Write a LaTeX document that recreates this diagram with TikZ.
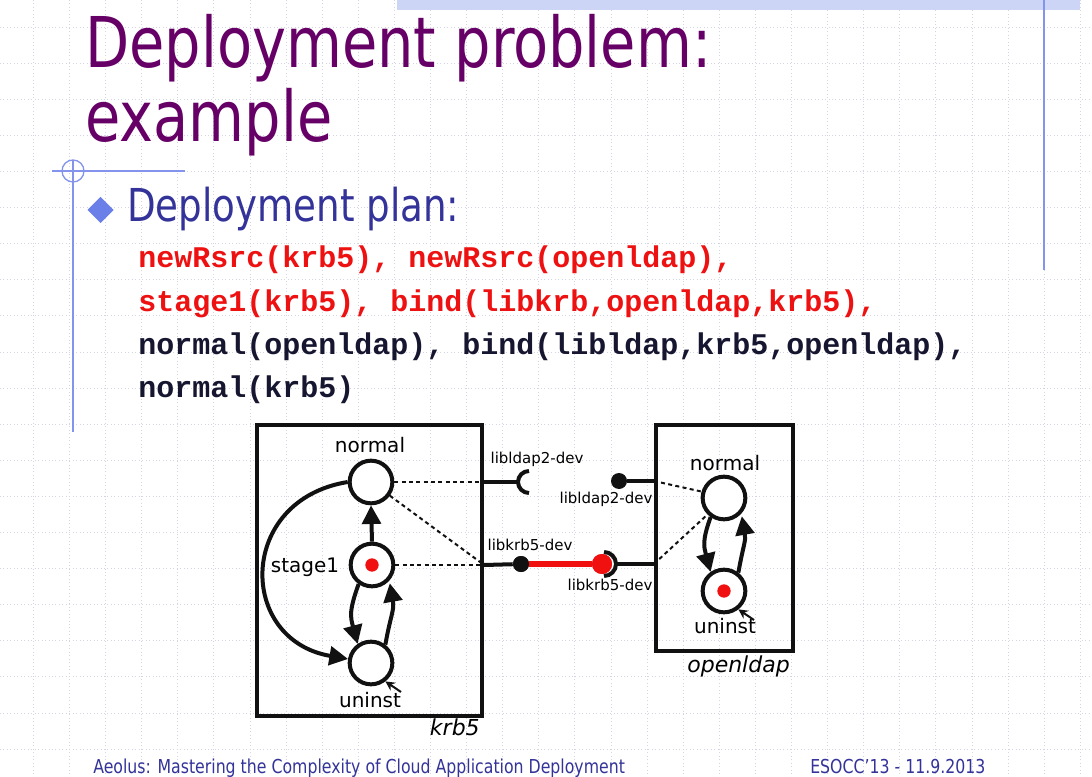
\documentclass[tikz,border=0pt]{standalone}
\usepackage{fontspec}
\usepackage{graphicx}
\setmainfont{DejaVu Sans}
\newfontfamily\codefont{Liberation Mono}
\usetikzlibrary{arrows.meta}
\definecolor{titlec}{HTML}{660066}
\definecolor{bulletc}{HTML}{333399}
\definecolor{diamc}{HTML}{6B7FE8}
\definecolor{linec}{HTML}{8494EC}
\definecolor{bandc}{HTML}{CDD5F6}
\definecolor{gridc}{HTML}{D4D4E2}
\definecolor{codered}{HTML}{EE1111}
\definecolor{codedark}{HTML}{161630}
\definecolor{ink}{HTML}{111111}
\definecolor{bindred}{HTML}{F01010}
\begin{document}
\begin{tikzpicture}[x=0.75pt,y=0.75pt,
  gridline/.style={draw=gridc, dotted, line width=0.6pt},
  titletext/.style={font=\fontsize{52.5}{60}\selectfont, text=titlec, anchor=base west, inner sep=0pt},
  plantext/.style={font=\fontsize{34}{40}\selectfont, text=bulletc, anchor=base west, inner sep=0pt},
  codetext/.style={font=\codefont\bfseries\fontsize{22.5}{26}\selectfont, anchor=base west, inner sep=0pt},
  foottext/.style={font=\fontsize{14.4}{17}\selectfont, text=bulletc, anchor=base west, inner sep=0pt},
  comp/.style={draw=ink, line width=3.2pt, inner sep=0pt},
  state/.style={circle, draw=ink, fill=white, line width=3pt, minimum size=32pt, inner sep=0pt},
  stlabel/.style={font=\fontsize{15}{18}\selectfont, anchor=base, inner sep=0pt},
  portlabel/.style={font=\fontsize{11.25}{13}\selectfont, anchor=base, inner sep=0pt},
  complabel/.style={font=\fontsize{16.5}{19}\selectfont\itshape, anchor=base east, inner sep=0pt},
  arr/.style={draw=ink, line width=3pt, -{Triangle[length=14pt,width=14pt]}},
  initarr/.style={draw=ink, line width=1.5pt, -{Stealth[length=7pt,width=7pt]}},
  portline/.style={draw=ink, line width=3pt},
  dashline/.style={draw=ink, line width=1.5pt, dash pattern=on 3pt off 2.5pt},
  provdot/.style={circle, fill=ink, minimum size=12pt, inner sep=0pt},
  reddot/.style={circle, fill=bindred, minimum size=15pt, inner sep=0pt},
  bindline/.style={draw=bindred, line width=4.5pt}
]
\useasboundingbox (0,0) rectangle (1092,-777);
\fill[white] (0,0) rectangle (1092,-777);
% background grid
\foreach \i in {0,...,20} \draw[gridline] (0,-27-36.1*\i) -- (1092,-27-36.1*\i);
\foreach \i in {0,...,29} \draw[gridline] (33.3+36.1*\i,0) -- (33.3+36.1*\i,-777);
% slide decorations
\fill[bandc] (397,0) rectangle (1080,-10);
\draw[linec, line width=1.2pt] (1044,0) -- (1044,-270);
\draw[linec, line width=1.2pt] (52,-171) -- (185,-171);
\draw[linec, line width=1.2pt] (73,-160) -- (73,-432);
\draw[linec, line width=1pt] (73,-171) circle[radius=8.25pt];
\fill[diamc] (100.5,-197) -- (113.5,-210) -- (100.5,-223) -- (87.5,-210) -- cycle;
% title
\node[titletext] (t1) at (85,-68) {\scalebox{0.82}[1]{Deployment problem:}};
\node[titletext] (t2) at (85,-142) {\scalebox{0.82}[1]{example}};
\node[plantext] (plan) at (127,-222) {\scalebox{0.82}[1]{Deployment plan:}};
% code
\node[codetext, text=codered] (c1) at (138,-268) {newRsrc(krb5), newRsrc(openldap),};
\node[codetext, text=codered] (c2) at (138,-311) {stage1(krb5), bind(libkrb,openldap,krb5),};
\node[codetext, text=codedark] (c3) at (138,-354) {normal(openldap), bind(libldap,krb5,openldap),};
\node[codetext, text=codedark] (c4) at (138,-397) {normal(krb5)};
% footer
\node[foottext] (f1) at (93,-773) {\scalebox{0.82}[1]{Aeolus: Mastering the Complexity of Cloud Application Deployment}};
\node[foottext] (f2) at (810,-773) {\scalebox{0.82}[1]{ESOCC'13 - 11.9.2013}};
% component boxes
\node[comp, minimum width=225*0.75pt, minimum height=291*0.75pt] (krb) at (369.5,-570.5) {};
\node[comp, minimum width=137*0.75pt, minimum height=226*0.75pt] (ol) at (724.5,-538) {};
\node[complabel] (krbl) at (480,-735) {krb5};
\node[complabel] (oll) at (790,-672) {openldap};
% krb5 states
\node[state] (n1) at (371,-482) {};
\node[state] (s1) at (372,-565) {};
\node[state] (u1) at (371,-663) {};
\fill[bindred] (s1) circle[radius=5pt];
\node[stlabel] (n1l) at (370,-452) {normal};
\node[stlabel] (s1l) at (305,-572) {stage1};
\node[stlabel] (u1l) at (370,-707) {uninst};
% openldap states
\node[state] (n2) at (724,-498) {};
\node[state] (u2) at (724,-591) {};
\fill[bindred] (u2) circle[radius=5pt];
\node[stlabel] (n2l) at (725,-470) {normal};
\node[stlabel] (u2l) at (725,-633) {uninst};
% krb5 transitions
\draw[arr] (s1.north) -- (n1.south);
\draw[arr] (n1.west) .. controls (237,-500) and (237,-640) .. (u1.170);
\draw[arr] (s1.235) to[out=250,in=105,looseness=1.2] (u1.125);
\draw[arr, shorten >=2pt] (u1.52) to[out=80,in=-80,looseness=1.2] (s1.-42);
\coordinate (ui1) at (401,-692);
\draw[initarr] (ui1) -- (u1.-52);
% openldap transitions
\draw[arr] (n2.235) to[out=250,in=105,looseness=1.2] (u2.125);
\draw[arr, shorten >=2pt] (u2.52) to[out=80,in=-80,looseness=1.2] (n2.-42);
\coordinate (ui2) at (754,-620);
\draw[initarr] (ui2) -- (u2.-52);
% ports of krb5
\coordinate (kreq) at (518,-482);
\draw[dashline] (n1.east) -- (krb.east |- n1);
\draw[dashline] (n1.-36) -- (krb.east |- s1);
\draw[dashline] (s1.east) -- (krb.east |- s1);
\draw[portline] (krb.east |- n1) -- (kreq);
\draw[portline] (529,-471) arc[start angle=90, end angle=270, radius=8.25pt];
\node[provdot] (kprov) at (521,-564) {};
\draw[portline] (krb.east |- s1) -- (kprov);
% ports of openldap
\node[provdot] (oprov) at (619,-481) {};
\draw[portline] (oprov) -- (ol.west |- oprov);
\coordinate (oreq) at (616,-564);
\draw[portline] (oreq) -- (ol.west |- oreq);
\draw[dashline] (ol.west |- oprov) -- (n2.164);
\draw[dashline] (ol.west |- oreq) -- (n2.225);
% binding
\node[reddot] (rdot) at (602,-564) {};
\draw[bindline] (kprov) -- (rdot);
\node[provdot] at (kprov) {};
\node[reddot] at (rdot) {};
\draw[portline] (604,-552) arc[start angle=90, end angle=-90, radius=9pt];
% port labels
\node[portlabel] (pl1) at (537,-463) {libldap2-dev};
\node[portlabel] (pl2) at (606,-503) {libldap2-dev};
\node[portlabel] (pl3) at (530,-550) {libkrb5-dev};
\node[portlabel] (pl4) at (610,-590) {libkrb5-dev};
\end{tikzpicture}
\end{document}
